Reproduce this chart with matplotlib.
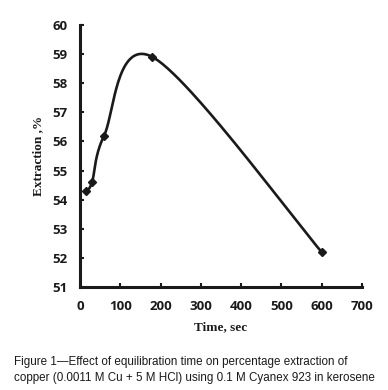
import numpy as np
import matplotlib
matplotlib.use("Agg")
import matplotlib.pyplot as plt

time_sec = [15, 30, 60, 180, 600]
extraction = [54.3, 54.6, 56.2, 58.9, 52.2]
x_ticks = [0, 100, 200, 300, 400, 500, 600, 700]
y_ticks = [51, 52, 53, 54, 55, 56, 57, 58, 59, 60]


def smooth(xs, ys, n=60):
    # Excel-like smoothed line: Catmull-Rom based cubic Bezier segments
    xs = np.asarray(xs, float); ys = np.asarray(ys, float)
    px, py = [], []
    for i in range(len(xs) - 1):
        x0, y0 = (xs[i - 1], ys[i - 1]) if i > 0 else (xs[i], ys[i])
        x3, y3 = (xs[i + 2], ys[i + 2]) if i + 2 < len(xs) else (xs[i + 1], ys[i + 1])
        x1, y1 = xs[i], ys[i]
        x2, y2 = xs[i + 1], ys[i + 1]
        c1x, c1y = x1 + (x2 - x0) / 6, y1 + (y2 - y0) / 6
        c2x, c2y = x2 - (x3 - x1) / 6, y2 - (y3 - y1) / 6
        t = np.linspace(0, 1, n)
        bx = (1-t)**3*x1 + 3*(1-t)**2*t*c1x + 3*(1-t)*t**2*c2x + t**3*x2
        by = (1-t)**3*y1 + 3*(1-t)**2*t*c1y + 3*(1-t)*t**2*c2y + t**3*y2
        px.extend(bx); py.extend(by)
    return np.array(px), np.array(py)


fig = plt.figure(figsize=(3.88, 3.90), dpi=100)
ax = fig.add_axes([0.206, 0.264, 0.727, 0.672])

sx, sy = smooth(time_sec, extraction)
ax.plot(sx, sy, color="#1a1a1a", lw=1.9)
ax.plot(time_sec, extraction, linestyle="none", marker="D", ms=4.2, color="#1a1a1a")

ax.set_xlim(0, 700)
ax.set_ylim(51, 60)
ax.set_xticks(x_ticks)
ax.set_yticks(y_ticks)
for s in ["top", "right"]:
    ax.spines[s].set_visible(False)
for s in ["left", "bottom"]:
    ax.spines[s].set_linewidth(2.2)
    ax.spines[s].set_color("#1a1a1a")
ax.tick_params(direction="in", length=3, width=1.5, colors="#1a1a1a",
               labelsize=9.5, pad=9)
for lab in ax.get_xticklabels() + ax.get_yticklabels():
    lab.set_fontweight("bold")
    lab.set_family("Open Sans")
ax.set_xlabel("Time, sec", family="Liberation Serif", fontweight="bold",
              fontsize=9.5, labelpad=6, color="#1a1a1a")
ax.set_ylabel("Extraction ,%", family="Liberation Serif", fontweight="bold",
              fontsize=9.5, labelpad=6, color="#1a1a1a")

fig.text(0.036, 0.065, "Figure 1\u2014Effect of equilibration time on percentage extraction of",
         family="Liberation Sans", fontsize=8.4, color="#1a1a1a")
fig.text(0.036, 0.022, "copper (0.0011 M Cu + 5 M HCl) using 0.1 M Cyanex 923 in kerosene",
         family="Liberation Sans", fontsize=8.4, color="#1a1a1a")

fig.savefig("out.png", dpi=100)
